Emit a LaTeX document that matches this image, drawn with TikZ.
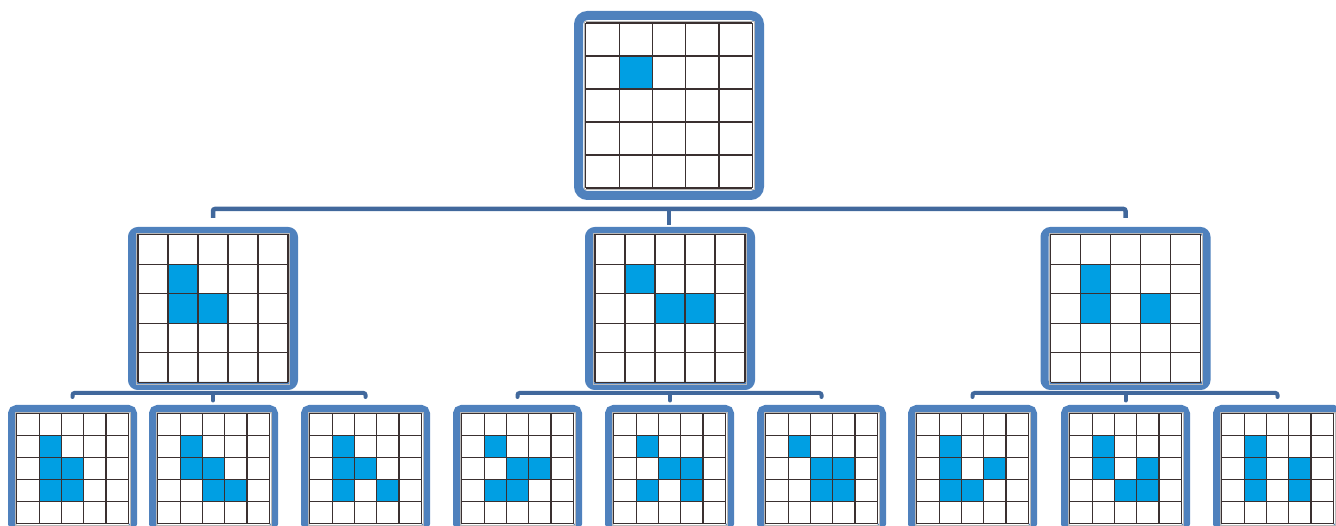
\documentclass[tikz,border=0pt]{standalone}
\usetikzlibrary{calc}
\definecolor{boxblue}{HTML}{4F81BD}
\definecolor{connblue}{HTML}{41689C}
\definecolor{cellblue}{HTML}{009FE3}
\definecolor{gridcol}{HTML}{3A3030}
\tikzset{
 gbox/.style={draw=boxblue, fill=white, rounded corners=#1, inner sep=0pt},
 topbox/.style={gbox=9pt, line width=9pt, minimum width=181pt, minimum height=180pt},
 midbox/.style={gbox=6pt, line width=8pt, minimum width=162pt, minimum height=155pt},
 lowbox/.style={gbox=5pt, line width=7pt, minimum width=122pt, minimum height=120pt},
 conn/.style={draw=connblue, line width=4.5pt, rounded corners=2pt},
 conn2/.style={draw=connblue, line width=4pt, rounded corners=2pt, line cap=round},
 gridline/.style={draw=gridcol, line width=1.1pt},
 gridedge/.style={draw=gray!55, line width=0.6pt},
}
\newcommand\drawcells[4]{%
 \begin{scope}[shift={(#1.center)}]
  \foreach \r/\c in {#4} {\fill[cellblue] ({(\c-2.5)*#2},{(\r-2.5)*#3}) rectangle ++(#2,#3);}
  \foreach \i in {0,...,5} {
   \draw[gridline] ({(\i-2.5)*#2},{-2.5*#3}) -- ({(\i-2.5)*#2},{2.5*#3});
   \draw[gridline] ({-2.5*#2},{(\i-2.5)*#3}) -- ({2.5*#2},{(\i-2.5)*#3});
  }
  \draw[gridedge] ({-2.5*#2-1.6},{-2.5*#3-1.6}) rectangle ({2.5*#2+1.6},{2.5*#3+1.6});
 \end{scope}}
\begin{document}
\begin{tikzpicture}[x=1pt,y=-1pt]
\useasboundingbox (0,0) rectangle (1336,526);
\clip (0,0) rectangle (1336,526);
% boxes
\node[topbox] (t) at (669,105.5) {};
\node[midbox] (a) at (213,308.5) {};
\node[midbox] (b) at (670,308.5) {};
\node[midbox] (c) at (1125.5,308.5) {};
\node[lowbox] (l1) at (72.5,468.5) {};
\node[lowbox] (l2) at (213.5,468.5) {};
\node[lowbox] (l3) at (365.5,468.5) {};
\node[lowbox] (l4) at (517.5,468.5) {};
\node[lowbox] (l5) at (669.5,468.5) {};
\node[lowbox] (l6) at (821.5,468.5) {};
\node[lowbox] (l7) at (972.5,468.5) {};
\node[lowbox] (l8) at (1125.5,468.5) {};
\node[lowbox] (l9) at (1277.5,468.5) {};
% grids
\drawcells{t}{33.3}{33}{1/1}
\drawcells{a}{30}{29.6}{1/1,2/1,2/2}
\drawcells{b}{30}{29.6}{1/1,2/2,2/3}
\drawcells{c}{30}{29.6}{1/1,2/1,2/3}
\drawcells{l1}{22.3}{22}{1/1,2/1,2/2,3/1,3/2}
\drawcells{l2}{22.3}{22}{1/1,2/1,2/2,3/2,3/3}
\drawcells{l3}{22.3}{22}{1/1,2/1,2/2,3/1,3/3}
\drawcells{l4}{22.3}{22}{1/1,2/2,2/3,3/1,3/2}
\drawcells{l5}{22.3}{22}{1/1,2/2,2/3,3/1,3/3}
\drawcells{l6}{22.3}{22}{1/1,2/2,2/3,3/2,3/3}
\drawcells{l7}{22.3}{22}{1/1,2/1,2/3,3/1,3/2}
\drawcells{l8}{22.3}{22}{1/1,2/1,2/3,3/2,3/3}
\drawcells{l9}{22.3}{22}{1/1,2/1,2/3,3/1,3/3}
% connectors level 1 -> 2
\draw[conn] ([yshift=9pt]a.north) |- ([yshift=18pt]b.north) -| ([yshift=9pt]c.north);
\draw[conn] ([yshift=-7.5pt]t.south) -- ([yshift=-25.5pt]t.south);
% connectors level 2 -> 3
\draw[conn2] ([yshift=8pt]l1.north) |- ([yshift=12pt]l2.north) -| ([yshift=8pt]l3.north);
\draw[conn2] ([yshift=-4pt]a.south) -- ([yshift=-10.5pt]a.south);
\draw[conn2] ([yshift=8pt]l4.north) |- ([yshift=12pt]l5.north) -| ([yshift=8pt]l6.north);
\draw[conn2] ([yshift=-4pt]b.south) -- ([yshift=-10.5pt]b.south);
\draw[conn2] ([yshift=8pt]l7.north) |- ([yshift=12pt]l8.north) -| ([yshift=8pt]l9.north);
\draw[conn2] ([yshift=-4pt]c.south) -- ([yshift=-10.5pt]c.south);
\end{tikzpicture}
\end{document}
